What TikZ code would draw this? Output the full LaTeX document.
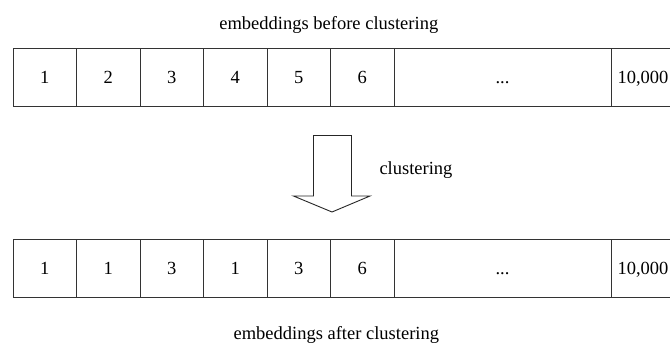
\documentclass[tikz,border=0pt]{standalone}
\usepackage{fontspec}
\setmainfont{Liberation Serif}
\begin{document}
\begin{tikzpicture}[x=1pt,y=-1pt,
  cell/.style={draw=black!80, line width=0.9pt, inner sep=0pt, outer sep=0pt,
    minimum height=58pt, text height=12.5pt, text depth=0pt,
    font=\fontsize{18.5}{22}\selectfont},
  lbl/.style={inner sep=0pt, font=\fontsize{18.5}{22}\selectfont},
  bigarrow/.style={draw=black!85, line width=0.9pt, fill=white, line join=miter}]
\useasboundingbox (0,0) rectangle (670,343);
\clip (0,0) rectangle (670,343);
\fill[white] (0,0) rectangle (670,343);

% title
\node[lbl] (ttop) at (328.8,25) {embeddings before clustering};

% top row
\node[cell, minimum width=63.5pt] (a1) at (44.75,77) {1};
\node[cell, minimum width=63.5pt] (a2) at (108.25,77) {2};
\node[cell, minimum width=63.5pt] (a3) at (171.75,77) {3};
\node[cell, minimum width=63.5pt] (a4) at (235.25,77) {4};
\node[cell, minimum width=63.5pt] (a5) at (298.75,77) {5};
\node[cell, minimum width=63.5pt] (a6) at (362.25,77) {6};
\node[cell, minimum width=217pt] (a7) at (502.5,77) {...};
\node[cell, minimum width=64pt] (a8) at (643,77) {10,000};

% arrow
\draw[bigarrow] (313.5,135.5) -- (351.5,135.5) -- (351.5,196) -- (370,196)
  -- (332,212) -- (293.5,196) -- (313.5,196) -- cycle;
\node[lbl] (clus) at (416,170) {clustering};

% bottom row
\node[cell, minimum width=63.5pt] (b1) at (44.75,268) {1};
\node[cell, minimum width=63.5pt] (b2) at (108.25,268) {1};
\node[cell, minimum width=63.5pt] (b3) at (171.75,268) {3};
\node[cell, minimum width=63.5pt] (b4) at (235.25,268) {1};
\node[cell, minimum width=63.5pt] (b5) at (298.75,268) {3};
\node[cell, minimum width=63.5pt] (b6) at (362.25,268) {6};
\node[cell, minimum width=217pt] (b7) at (502.5,268) {...};
\node[cell, minimum width=64pt] (b8) at (643,268) {10,000};

\node[lbl] (tbot) at (336.3,335) {embeddings after clustering};
\end{tikzpicture}
\end{document}
